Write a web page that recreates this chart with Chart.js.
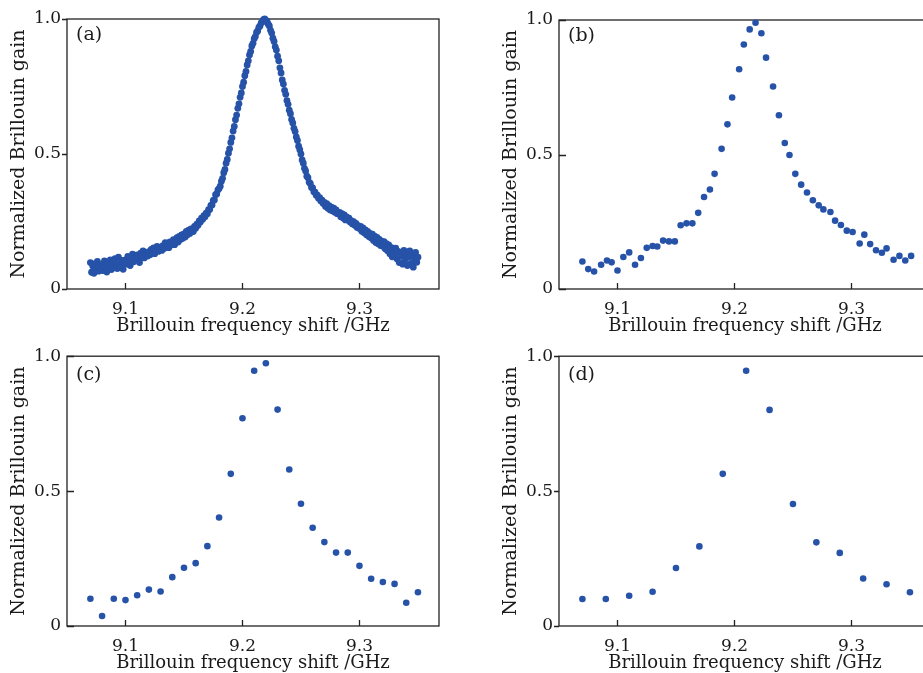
<!DOCTYPE html>
<html>
<head>
<meta charset="utf-8">
<title>Brillouin gain spectra</title>
<script src="https://cdn.jsdelivr.net/npm/chart.js@4.4.0/dist/chart.umd.min.js"></script>
<style>
  html, body { margin: 0; padding: 0; background: #fff; width: 923px; height: 673px; overflow: hidden; }
  .panel { position: absolute; }
</style>
</head>
<body>
<canvas id="chartA" class="panel" style="left:0;top:0" width="445" height="337"></canvas>
<canvas id="chartB" class="panel" style="left:492px;top:0" width="445" height="337"></canvas>
<canvas id="chartC" class="panel" style="left:0;top:340px" width="445" height="334"></canvas>
<canvas id="chartD" class="panel" style="left:492px;top:340px" width="445" height="334"></canvas>
<script>
// axis ticks
const xTickValues = [9.1, 9.2, 9.3];
const xTickLabels = ['9.1', '9.2', '9.3'];
const yTickValues = [0, 0.5, 1.0];
const yTickLabels = ['0', '0.5', '1.0'];
const xTitle = 'Brillouin frequency shift /GHz';
const yTitle = 'Normalized Brillouin gain';
const panelLabels = ['(a)', '(b)', '(c)', '(d)'];

// (a) 1 MHz scan
const freqA = [
  9.070,9.071,9.072,9.073,9.074,9.075,9.076,9.077,9.078,9.079,
  9.080,9.081,9.082,9.083,9.084,9.085,9.086,9.087,9.088,9.089,
  9.090,9.091,9.092,9.093,9.094,9.095,9.096,9.097,9.098,9.099,
  9.100,9.101,9.102,9.103,9.104,9.105,9.106,9.107,9.108,9.109,
  9.110,9.111,9.112,9.113,9.114,9.115,9.116,9.117,9.118,9.119,
  9.120,9.121,9.122,9.123,9.124,9.125,9.126,9.127,9.128,9.129,
  9.130,9.131,9.132,9.133,9.134,9.135,9.136,9.137,9.138,9.139,
  9.140,9.141,9.142,9.143,9.144,9.145,9.146,9.147,9.148,9.149,
  9.150,9.151,9.152,9.153,9.154,9.155,9.156,9.157,9.158,9.159,
  9.160,9.161,9.162,9.163,9.164,9.165,9.166,9.167,9.168,9.169,
  9.170,9.171,9.172,9.173,9.174,9.175,9.176,9.177,9.178,9.179,
  9.180,9.181,9.182,9.183,9.184,9.185,9.186,9.187,9.188,9.189,
  9.190,9.191,9.192,9.193,9.194,9.195,9.196,9.197,9.198,9.199,
  9.200,9.201,9.202,9.203,9.204,9.205,9.206,9.207,9.208,9.209,
  9.210,9.211,9.212,9.213,9.214,9.215,9.216,9.217,9.218,9.219,
  9.220,9.221,9.222,9.223,9.224,9.225,9.226,9.227,9.228,9.229,
  9.230,9.231,9.232,9.233,9.234,9.235,9.236,9.237,9.238,9.239,
  9.240,9.241,9.242,9.243,9.244,9.245,9.246,9.247,9.248,9.249,
  9.250,9.251,9.252,9.253,9.254,9.255,9.256,9.257,9.258,9.259,
  9.260,9.261,9.262,9.263,9.264,9.265,9.266,9.267,9.268,9.269,
  9.270,9.271,9.272,9.273,9.274,9.275,9.276,9.277,9.278,9.279,
  9.280,9.281,9.282,9.283,9.284,9.285,9.286,9.287,9.288,9.289,
  9.290,9.291,9.292,9.293,9.294,9.295,9.296,9.297,9.298,9.299,
  9.300,9.301,9.302,9.303,9.304,9.305,9.306,9.307,9.308,9.309,
  9.310,9.311,9.312,9.313,9.314,9.315,9.316,9.317,9.318,9.319,
  9.320,9.321,9.322,9.323,9.324,9.325,9.326,9.327,9.328,9.329,
  9.330,9.331,9.332,9.333,9.334,9.335,9.336,9.337,9.338,9.339,
  9.340,9.341,9.342,9.343,9.344,9.345,9.346,9.347,9.348,9.349,
  9.350
];
const gainA = [
  0.098,0.062,0.085,0.058,0.094,0.071,0.102,0.066,0.083,0.074,
  0.091,0.068,0.104,0.079,0.063,0.097,0.085,0.108,0.072,0.094,
  0.081,0.112,0.089,0.076,0.118,0.095,0.084,0.106,0.073,0.099,
  0.108,0.092,0.121,0.099,0.087,0.114,0.129,0.101,0.117,0.108,
  0.126,0.112,0.098,0.133,0.119,0.141,0.115,0.128,0.135,0.122,
  0.138,0.127,0.147,0.134,0.152,0.131,0.144,0.158,0.139,0.149,
  0.155,0.143,0.161,0.150,0.172,0.158,0.165,0.153,0.174,0.163,
  0.172,0.183,0.164,0.180,0.190,0.174,0.195,0.183,0.200,0.188,
  0.204,0.193,0.213,0.201,0.218,0.206,0.223,0.221,0.213,0.232,
  0.225,0.240,0.236,0.252,0.248,0.262,0.258,0.272,0.268,0.281,
  0.279,0.294,0.294,0.310,0.311,0.328,0.330,0.349,0.352,0.367,
  0.372,0.381,0.399,0.410,0.431,0.443,0.466,0.480,0.503,0.519,
  0.543,0.560,0.585,0.602,0.627,0.644,0.669,0.686,0.710,0.726,
  0.750,0.766,0.790,0.806,0.830,0.845,0.867,0.880,0.900,0.910,
  0.927,0.935,0.950,0.956,0.969,0.974,0.986,0.989,0.998,1.000,
  0.995,0.992,0.981,0.974,0.958,0.948,0.929,0.917,0.897,0.885,
  0.862,0.845,0.819,0.800,0.774,0.759,0.736,0.721,0.698,0.684,
  0.662,0.649,0.628,0.615,0.595,0.583,0.563,0.550,0.529,0.516,
  0.500,0.478,0.466,0.447,0.437,0.418,0.412,0.395,0.391,0.376,
  0.374,0.360,0.359,0.347,0.348,0.336,0.338,0.326,0.329,0.317,
  0.321,0.306,0.316,0.299,0.309,0.293,0.303,0.289,0.299,0.284,
  0.293,0.279,0.280,0.284,0.268,0.279,0.263,0.274,0.256,0.267,
  0.256,0.262,0.248,0.253,0.241,0.249,0.236,0.243,0.228,0.235,
  0.224,0.232,0.214,0.226,0.208,0.219,0.201,0.213,0.194,0.206,
  0.189,0.203,0.180,0.196,0.172,0.191,0.168,0.184,0.161,0.177,
  0.158,0.175,0.149,0.168,0.142,0.163,0.131,0.154,0.119,0.148,
  0.126,0.151,0.112,0.139,0.098,0.133,0.121,0.092,0.143,0.108,
  0.129,0.087,0.118,0.141,0.095,0.124,0.081,0.112,0.136,0.099,
  0.118
];

// (b) ~5 MHz step
const freqB = [
  9.070,9.075,9.080,9.086,9.091,9.095,9.100,9.105,9.110,9.115,
  9.120,9.125,9.130,9.134,9.139,9.144,9.149,9.154,9.159,9.164,
  9.169,9.174,9.179,9.183,9.189,9.194,9.198,9.204,9.208,9.213,
  9.218,9.223,9.227,9.233,9.238,9.243,9.247,9.252,9.257,9.262,
  9.267,9.272,9.276,9.282,9.286,9.291,9.296,9.301,9.307,9.311,
  9.316,9.321,9.326,9.330,9.336,9.341,9.346,9.351
];
const gainB = [
  0.102,0.074,0.065,0.090,0.106,0.099,0.069,0.119,0.136,0.090,
  0.115,0.153,0.160,0.158,0.180,0.177,0.177,0.237,0.244,0.244,
  0.283,0.342,0.370,0.428,0.521,0.612,0.712,0.817,0.909,0.965,
  0.990,0.951,0.860,0.753,0.646,0.543,0.498,0.428,0.388,0.359,
  0.330,0.311,0.296,0.286,0.254,0.238,0.217,0.212,0.169,0.202,
  0.167,0.144,0.135,0.151,0.109,0.123,0.106,0.123
];

// (c) 10 MHz step
const freqC = [
  9.07,9.08,9.09,9.10,9.11,9.12,9.13,9.14,9.15,9.16,
  9.17,9.18,9.19,9.20,9.21,9.22,9.23,9.24,9.25,9.26,
  9.27,9.28,9.29,9.30,9.31,9.32,9.33,9.34,9.35
];
const gainC = [
  0.101,0.037,0.101,0.096,0.114,0.135,0.128,0.181,0.216,0.233,
  0.296,0.402,0.564,0.770,0.946,0.974,0.802,0.580,0.453,0.364,
  0.311,0.272,0.272,0.223,0.175,0.163,0.156,0.086,0.125
];

// (d) 20 MHz step
const freqD = [9.07,9.09,9.11,9.13,9.15,9.17,9.19,9.21,9.23,9.25,9.27,9.29,9.31,9.33,9.35];
const gainD = [0.100,0.100,0.112,0.127,0.215,0.295,0.564,0.946,0.801,0.452,0.310,0.271,0.176,0.155,0.125];

const markerColor = 'rgb(38, 82, 168)';
const textColor = '#1a1a1a';
const serif = '"DejaVu Serif", "Liberation Serif", serif';

const framePlugin = {
  id: 'frame',
  beforeDatasetsDraw(chart, args, opts) {
    const {ctx, chartArea: a, scales: {x, y}} = chart;
    ctx.save();
    ctx.strokeStyle = '#222';
    ctx.lineWidth = 1.3;
    ctx.strokeRect(a.left, a.top, a.right - a.left, a.bottom - a.top);
    ctx.beginPath();
    x.ticks.forEach(t => {
      const px = Math.round(x.getPixelForValue(t.value)) + 0.5;
      ctx.moveTo(px, a.bottom);
      ctx.lineTo(px, a.bottom - 6);
    });
    y.ticks.forEach(t => {
      const py = Math.round(y.getPixelForValue(t.value)) + 0.5;
      ctx.moveTo(a.left, py);
      ctx.lineTo(a.left + opts.yTick, py);
    });
    ctx.stroke();
    ctx.fillStyle = textColor;
    ctx.font = '19px ' + serif;
    ctx.textBaseline = 'top';
    ctx.fillText(opts.label, a.left + 9, a.top + opts.labelDy);
    ctx.restore();
  }
};

function makePanel(id, xs, ys, label, yTick, padTop, radius) {
  const points = xs.map((v, i) => ({x: v, y: ys[i]}));
  return new Chart(document.getElementById(id), {
    type: 'scatter',
    data: {
      datasets: [{
        data: points,
        pointRadius: radius,
        pointHoverRadius: radius,
        pointStyle: 'circle',
        pointBackgroundColor: markerColor,
        pointBorderWidth: 0,
        clip: false
      }]
    },
    options: {
      responsive: false,
      animation: false,
      events: [],
      layout: {padding: {left: 0, right: 6, top: padTop, bottom: 0}},
      plugins: {
        legend: {display: false},
        tooltip: {enabled: false},
        frame: {label: label, yTick: yTick, labelDy: padTop > 17 ? 7 : 9}
      },
      scales: {
        x: {
          type: 'linear',
          min: 9.05,
          max: 9.368,
          grid: {display: false, drawTicks: false},
          border: {display: false},
          afterBuildTicks: s => { s.ticks = xTickValues.map(v => ({value: v})); },
          afterFit: s => { s.height = 48; },
          ticks: {
            padding: 10,
            color: textColor,
            font: {family: serif, size: 17},
            callback: v => xTickLabels[xTickValues.indexOf(v)]
          },
          title: {
            display: true,
            text: xTitle,
            color: textColor,
            font: {family: serif, size: 18},
            padding: {top: 0, bottom: 0}
          }
        },
        y: {
          type: 'linear',
          min: 0,
          max: 1,
          grid: {display: false, drawTicks: false},
          border: {display: false},
          afterBuildTicks: s => { s.ticks = yTickValues.map(v => ({value: v})); },
          afterFit: s => { s.width = 67; },
          ticks: {
            padding: 6,
            color: textColor,
            font: {family: serif, size: 17},
            callback: v => yTickLabels[yTickValues.indexOf(v)]
          },
          title: {
            display: true,
            text: yTitle,
            color: textColor,
            font: {family: serif, size: 19},
            padding: {top: 8, bottom: 0}
          }
        }
      }
    },
    plugins: [framePlugin]
  });
}

makePanel('chartA', freqA, gainA, panelLabels[0], -5, 19, 3.4);
makePanel('chartB', freqB, gainB, panelLabels[1], 7, 20, 3.3);
makePanel('chartC', freqC, gainC, panelLabels[2], 7, 16, 3.3);
makePanel('chartD', freqD, gainD, panelLabels[3], -5, 16, 3.3);
</script>
</body>
</html>
